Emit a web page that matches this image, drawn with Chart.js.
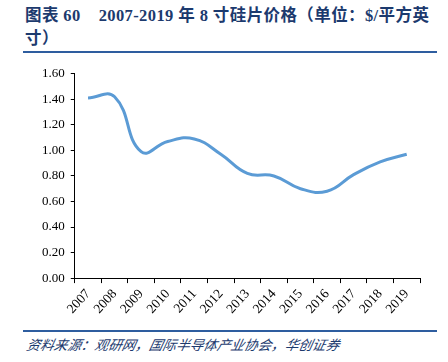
<!DOCTYPE html>
<html><head><meta charset="utf-8">
<script src="https://cdn.jsdelivr.net/npm/chart.js@4"></script>
<style>
body{margin:0;background:#fff;width:448px;height:362px;position:relative;overflow:hidden;}
#title{position:absolute;left:25px;top:4px;width:415px;font:bold 16.5px "Liberation Serif","Noto Sans CJK SC",serif;color:#1c3a6e;line-height:23px;letter-spacing:0.4px;}
#title .gap{display:inline-block;width:18px;}
#rule1{position:absolute;left:23px;top:51px;width:414px;height:2px;background:#2e5d9f;}
#rule2{position:absolute;left:23px;top:330px;width:414px;height:2px;background:#2e5d9f;}
#src{position:absolute;left:25px;top:334px;font:italic 13.6px "Noto Sans CJK SC",serif;color:#1c3a6e;transform:skewX(-12deg);transform-origin:left bottom;}
#wrap{position:absolute;left:20px;top:60px;width:420px;height:268px;}
</style></head><body>
<div id="title">图表 60<span class="gap"></span>2007-2019 年 8 寸硅片价格（单位：$/平方英寸）</div>
<div id="rule1"></div>
<div id="wrap"><canvas id="c" width="420" height="268"></canvas></div>
<div id="rule2"></div>
<div id="src">资料来源：观研网，国际半导体产业协会，华创证券</div>
<script>
const years = ["2007","2008","2009","2010","2011","2012","2013","2014","2015","2016","2017","2018","2019"];
const prices = [1.41,1.42,0.99,1.07,1.09,0.97,0.82,0.80,0.70,0.68,0.81,0.91,0.97];
const yTicks = [0,0.2,0.4,0.6,0.8,1.0,1.2,1.4,1.6];

new Chart(document.getElementById('c'),{
  type:'line',
  data:{labels:years,datasets:[{data:prices,borderColor:'#5b9bd5',borderWidth:3,pointRadius:0,tension:0.45,fill:false}]},
  options:{
    responsive:false,animation:false,
    plugins:{legend:{display:false},tooltip:{enabled:false}},
    layout:{padding:{left:16,right:20,top:8,bottom:8}},
    scales:{
      x:{offset:true,
        grid:{offset:true,drawOnChartArea:false,drawTicks:true,tickLength:5,color:'#000'},
        border:{display:true,color:'#000',width:1},
        ticks:{color:'#000',font:{family:'Liberation Serif',size:13.5},autoSkip:false,maxRotation:48,minRotation:48,padding:3}},
      y:{min:0,max:1.6,
        afterBuildTicks:(s)=>{s.ticks=yTicks.map(v=>({value:v}));},
        grid:{drawOnChartArea:false,drawTicks:true,tickLength:4,color:'#000'},
        border:{display:true,color:'#000',width:1},
        ticks:{color:'#000',font:{family:'Liberation Serif',size:13},padding:6,callback:(v)=>Number(v).toFixed(2)}}
    }
  }
});
</script>
</body></html>
